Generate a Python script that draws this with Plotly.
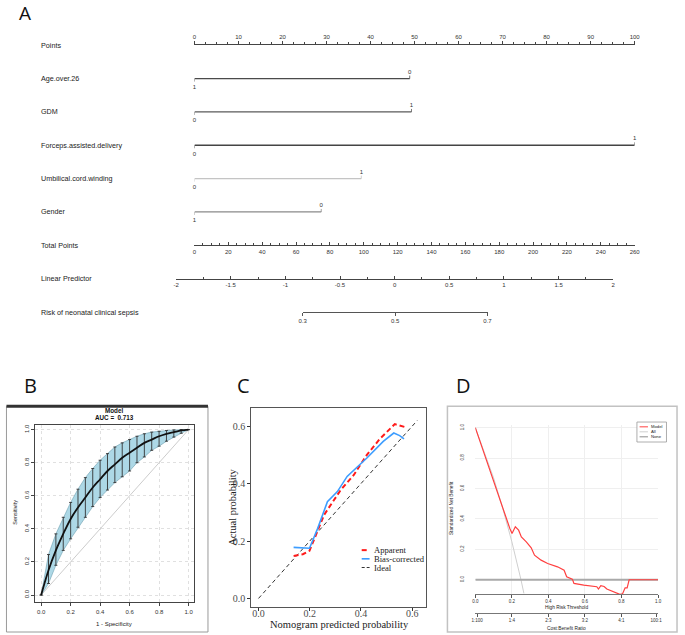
import plotly.graph_objects as go

W, H = 685, 635
def X(p): return p / W
def Y(p): return 1 - p / H

# ---------------- Panel A : nomogram data ----------------
row_labels = ["Points", "Age.over.26", "GDM", "Forceps.assisted.delivery",
              "Umbilical.cord.winding", "Gender", "Total Points",
              "Linear Predictor", "Risk of neonatal clinical sepsis"]
factor_level_text = [["1", "0"], ["0", "1"], ["0", "1"], ["0", "1"], ["1", "0"]]
factor_level_points = [[0, 48.9], [0, 49.3], [0, 100], [0, 37.9], [0, 28.8]]
factor_colors = ["#4a4a4a", "#5a5a5a", "#444444", "#c4c4c4", "#8a8a8a"]
points_ticks = [0, 10, 20, 30, 40, 50, 60, 70, 80, 90, 100]
total_points_ticks = [0, 20, 40, 60, 80, 100, 120, 140, 160, 180, 200, 220, 240, 260]
lp_ticks = [-2, -1.5, -1, -0.5, 0, 0.5, 1, 1.5, 2]
lp_tick_text = ["-2", "-1.5", "-1", "-0.5", "0", "0.5", "1", "1.5", "2"]
risk_ticks = [0.3, 0.5, 0.7]
risk_tick_text = ["0.3", "0.5", "0.7"]

# ---------------- Panel B : ROC ----------------
roc_fpr = [0.00, 0.05, 0.10, 0.15, 0.20, 0.25, 0.30, 0.35, 0.40, 0.45, 0.50,
           0.55, 0.60, 0.65, 0.70, 0.75, 0.80, 0.85, 0.90, 0.95, 1.00]
roc_sens = [0.00, 0.15, 0.27, 0.37, 0.46, 0.53, 0.59, 0.65, 0.70, 0.75, 0.79,
            0.83, 0.86, 0.89, 0.92, 0.94, 0.96, 0.975, 0.985, 0.995, 1.00]
roc_upper = [0.00, 0.245, 0.37, 0.47, 0.56, 0.64, 0.71, 0.765, 0.815, 0.855, 0.895,
             0.92, 0.94, 0.96, 0.975, 0.985, 0.99, 0.995, 0.998, 1.00, 1.00]
roc_lower = [0.00, 0.07, 0.18, 0.27, 0.34, 0.41, 0.47, 0.535, 0.59, 0.635, 0.68,
             0.715, 0.75, 0.80, 0.835, 0.875, 0.90, 0.93, 0.955, 0.978, 1.00]
auc_text = "AUC =  0.713"

# ---------------- Panel C : calibration ----------------
app_x = [0.137, 0.173, 0.199, 0.224, 0.256, 0.321, 0.372, 0.423, 0.474, 0.532, 0.571]
app_y = [0.148, 0.154, 0.166, 0.221, 0.291, 0.378, 0.430, 0.500, 0.556, 0.607, 0.597]
bc_x = [0.137, 0.199, 0.231, 0.269, 0.308, 0.346, 0.423, 0.487, 0.528, 0.551, 0.568]
bc_y = [0.178, 0.175, 0.244, 0.337, 0.372, 0.425, 0.489, 0.547, 0.576, 0.567, 0.556]
ideal_x = [0.0, 0.62]
ideal_y = [0.0, 0.62]
cal_ticks = [0.0, 0.2, 0.4, 0.6]
cal_tick_text = ["0.0", "0.2", "0.4", "0.6"]

# ---------------- Panel D : decision curve ----------------
model_t = [0.0, 0.144, 0.189, 0.201, 0.219, 0.237, 0.252, 0.279, 0.306, 0.324, 0.36,
           0.396, 0.45, 0.486, 0.5, 0.531, 0.54, 0.594, 0.665, 0.674, 0.687, 0.705,
           0.72, 0.791, 0.806, 0.82, 0.831, 0.842, 1.0]
model_nb = [1.0, 0.49, 0.337, 0.304, 0.348, 0.326, 0.282, 0.249, 0.21, 0.162, 0.129,
            0.107, 0.085, 0.063, 0.02, 0.004, -0.024, -0.035, -0.046, -0.061, -0.039, -0.044,
            -0.061, -0.096, -0.092, -0.053, -0.053, 0.0, 0.0]
all_t = [0.0, 0.05, 0.10, 0.15, 0.20, 0.25, 0.266]
all_nb = [1.0, 0.84, 0.67, 0.47, 0.25, 0.0, -0.09]
none_t = [0.0, 1.0]
none_nb = [0.0, 0.0]
dca_ticks = [0.0, 0.2, 0.4, 0.6, 0.8, 1.0]
dca_tick_text = ["0.0", "0.2", "0.4", "0.6", "0.8", "1.0"]
cb_ticks = [0.01, 0.2, 0.4, 0.6, 0.8, 0.99]
cb_tick_text = ["1:100", "1:4", "2:3", "3:2", "4:1", "100:1"]

SANS = "Liberation Sans, Arial, sans-serif"
SERIF = "Liberation Serif, Times New Roman, serif"

fig = go.Figure()

# ---- Nomogram factor rows (x / y) ----
ROW0, ROWSTEP = 44.3, 33.4
def rowpx(i): return ROW0 + ROWSTEP * i

for i, (txt, pts, col) in enumerate(zip(factor_level_text, factor_level_points, factor_colors)):
    r = i + 1
    fig.add_trace(go.Scatter(x=pts, y=[r, r], mode="lines", line=dict(color=col, width=1.3),
                             xaxis="x", yaxis="y", hoverinfo="skip", showlegend=False))
    fig.add_trace(go.Scatter(x=[pts[0], pts[0], None, pts[1], pts[1]],
                             y=[r, r + 0.09, None, r, r - 0.09], mode="lines",
                             line=dict(color=col, width=0.8), xaxis="x", yaxis="y",
                             hoverinfo="skip", showlegend=False))
    fig.add_trace(go.Scatter(x=[pts[0], pts[1]], y=[r + 0.27, r - 0.19], mode="text",
                             text=txt, textposition="middle center", cliponaxis=False,
                             textfont=dict(family=SANS, size=6, color="#333"),
                             xaxis="x", yaxis="y", hoverinfo="skip", showlegend=False))

# empty traces to create the scale subplots
for k in ["2", "3", "4", "5", "9"]:
    fig.add_trace(go.Scatter(x=[], y=[], xaxis="x" + k, yaxis="y" + k,
                             hoverinfo="skip", showlegend=False))

# ---- Panel B (x6/y6) ----
fig.add_trace(go.Scatter(x=[0, 1], y=[0, 1], mode="lines", line=dict(color="#cccccc", width=1),
                         xaxis="x6", yaxis="y6", hoverinfo="skip", showlegend=False))
fig.add_trace(go.Scatter(x=roc_fpr + roc_fpr[::-1], y=roc_upper + roc_lower[::-1],
                         mode="lines", fill="toself", fillcolor="#add8e6",
                         line=dict(color="#6f9fb0", width=0.6),
                         xaxis="x6", yaxis="y6", hoverinfo="skip", showlegend=False))
fig.add_trace(go.Scatter(x=roc_fpr, y=roc_sens, mode="lines",
                         line=dict(color="#111111", width=1.8, shape="spline"),
                         error_y=dict(type="data", symmetric=False,
                                      array=[u - m for u, m in zip(roc_upper, roc_sens)],
                                      arrayminus=[m - l for m, l in zip(roc_sens, roc_lower)],
                                      color="#333333", thickness=0.9, width=1.5),
                         xaxis="x6", yaxis="y6", hoverinfo="skip", showlegend=False))

# ---- Panel C (x7/y7) ----
fig.add_trace(go.Scatter(x=ideal_x, y=ideal_y, mode="lines",
                         line=dict(color="#333333", width=1, dash="4px,3px"),
                         xaxis="x7", yaxis="y7", hoverinfo="skip", showlegend=False))
fig.add_trace(go.Scatter(x=app_x, y=app_y, mode="lines",
                         line=dict(color="#ff1a1a", width=2, dash="5px,3px"),
                         xaxis="x7", yaxis="y7", hoverinfo="skip", showlegend=False))
fig.add_trace(go.Scatter(x=bc_x, y=bc_y, mode="lines",
                         line=dict(color="#3d9dff", width=1.6),
                         xaxis="x7", yaxis="y7", hoverinfo="skip", showlegend=False))

# ---- Panel D (x8/y8) ----
fig.add_trace(go.Scatter(x=all_t, y=all_nb, mode="lines", line=dict(color="#cfcfcf", width=1),
                         xaxis="x8", yaxis="y8", hoverinfo="skip", showlegend=False,
                         cliponaxis=False))
fig.add_trace(go.Scatter(x=none_t, y=none_nb, mode="lines", line=dict(color="#a9a9a9", width=2),
                         xaxis="x8", yaxis="y8", hoverinfo="skip", showlegend=False))
fig.add_trace(go.Scatter(x=model_t, y=model_nb, mode="lines", line=dict(color="#ff4040", width=1.2),
                         xaxis="x8", yaxis="y8", hoverinfo="skip", showlegend=False,
                         cliponaxis=False))

hidden = dict(visible=False, showgrid=False, zeroline=False)
nomo_dom = [X(193.3), X(640)]
tickfont_nomo = dict(family=SANS, size=6, color="#333")

layout = dict(
    width=W, height=H, margin=dict(l=0, r=0, t=0, b=0), hovermode=False,
    paper_bgcolor="white", plot_bgcolor="rgba(0,0,0,0)", showlegend=False,
    xaxis=dict(domain=nomo_dom, range=[0, 100], anchor="y", **hidden),
    yaxis=dict(domain=[Y(240), Y(55)],
               range=[(240 - ROW0) / ROWSTEP, (55 - ROW0) / ROWSTEP], anchor="x", **hidden),
    # Points
    xaxis2=dict(domain=nomo_dom, range=[0, 100], anchor="y2", side="top", showline=True,
                linecolor="#444", linewidth=1, ticks="outside", ticklen=3, tickcolor="#444",
                tickmode="array", tickvals=points_ticks, tickfont=tickfont_nomo,
                showgrid=False, zeroline=False,
                minor=dict(tickmode="array", tickvals=[i * 2.5 for i in range(41)],
                           ticks="outside", ticklen=2, tickcolor="#444", showgrid=False)),
    yaxis2=dict(domain=[Y(50), Y(ROW0)], range=[0, 1], anchor="x2", **hidden),
    # Total points
    xaxis3=dict(domain=nomo_dom, range=[0, 260], anchor="y3", side="bottom", showline=True,
                linecolor="#444", linewidth=1, ticks="inside", ticklen=3, tickcolor="#444",
                tickmode="array", tickvals=total_points_ticks, tickfont=tickfont_nomo,
                showgrid=False, zeroline=False,
                minor=dict(tickmode="array", tickvals=[i * 5 for i in range(53)],
                           ticks="inside", ticklen=2, tickcolor="#444", showgrid=False)),
    yaxis3=dict(domain=[Y(rowpx(6)), Y(rowpx(6) - 6)], range=[0, 1], anchor="x3", **hidden),
    # Linear predictor
    xaxis4=dict(domain=[X(174.7), X(618.2)], range=[-2, 2], anchor="y4", side="bottom",
                showline=True, linecolor="#444", linewidth=1, ticks="inside", ticklen=3,
                tickcolor="#444", tickmode="array", tickvals=lp_ticks, ticktext=lp_tick_text,
                tickfont=tickfont_nomo, showgrid=False, zeroline=False,
                minor=dict(tickmode="array", tickvals=[-2 + i * 0.25 for i in range(17)],
                           ticks="inside", ticklen=2, tickcolor="#444", showgrid=False)),
    yaxis4=dict(domain=[Y(rowpx(7)), Y(rowpx(7) - 6)], range=[0, 1], anchor="x4", **hidden),
    # Risk
    xaxis5=dict(domain=[X(303), X(490.7)], range=[0.3, 0.7], anchor="y5", side="bottom",
                showline=True, linecolor="#555", linewidth=1, ticks="outside", ticklen=3,
                tickcolor="#555", tickmode="array", tickvals=risk_ticks, ticktext=risk_tick_text,
                tickfont=tickfont_nomo, showgrid=False, zeroline=False),
    yaxis5=dict(domain=[Y(rowpx(8)), Y(rowpx(8) - 6)], range=[0, 1], anchor="x5", **hidden),
    # Panel B
    xaxis6=dict(domain=[X(31.7), X(192.7)], range=[-0.04, 1.036], anchor="y6",
                showline=True, mirror=True, linecolor="#444", linewidth=1,
                ticks="outside", ticklen=3, tickcolor="#444",
                tickmode="array", tickvals=dca_ticks, ticktext=dca_tick_text,
                tickfont=dict(family=SANS, size=6, color="#333"),
                showgrid=True, gridcolor="#d8d8d8", griddash="dot", gridwidth=0.8, zeroline=False),
    yaxis6=dict(domain=[Y(602.3), Y(425)], range=[-0.044, 1.026], anchor="x6",
                showline=True, mirror=True, linecolor="#444", linewidth=1,
                ticks="outside", ticklen=3, tickcolor="#444", tickangle=-90,
                tickmode="array", tickvals=dca_ticks, ticktext=dca_tick_text,
                tickfont=dict(family=SANS, size=6, color="#333"),
                showgrid=True, gridcolor="#d8d8d8", griddash="dot", gridwidth=0.8, zeroline=False),
    # Panel C
    xaxis7=dict(domain=[X(251), X(428.3)], range=[-0.028, 0.654], anchor="y7",
                showline=True, mirror=True, linecolor="#555", linewidth=1,
                ticks="outside", ticklen=3, tickcolor="#333", ticklabelstandoff=-6,
                tickmode="array", tickvals=cal_ticks, ticktext=cal_tick_text,
                tickfont=dict(family=SERIF, size=10, color="#4d4d4d"),
                showgrid=False, zeroline=False),
    yaxis7=dict(domain=[Y(607.3), Y(407.7)], range=[-0.031, 0.663], anchor="x7",
                showline=True, mirror=True, linecolor="#555", linewidth=1,
                ticks="outside", ticklen=3, tickcolor="#333",
                tickmode="array", tickvals=cal_ticks, ticktext=cal_tick_text,
                tickfont=dict(family=SERIF, size=10, color="#4d4d4d"),
                showgrid=False, zeroline=False),
    # Panel D
    xaxis8=dict(domain=[X(478.3), X(663.7)], range=[0, 1], anchor="y8",
                showline=True, linecolor="#555", linewidth=0.8,
                ticks="outside", ticklen=2.5, tickcolor="#555",
                tickmode="array", tickvals=dca_ticks, ticktext=dca_tick_text,
                tickfont=dict(family=SANS, size=4.5, color="#333"),
                showgrid=True, gridcolor="#efefef", gridwidth=1, zeroline=False),
    yaxis8=dict(domain=[Y(594.3), Y(424.3)], range=[-0.096, 1.02], anchor="x8",
                showline=False, ticks="", tickangle=-90, ticklabelstandoff=9,
                tickmode="array", tickvals=dca_ticks, ticktext=dca_tick_text,
                tickfont=dict(family=SANS, size=4.5, color="#333"),
                showgrid=True, gridcolor="#efefef", gridwidth=1, zeroline=False),
    xaxis9=dict(domain=[X(478.3), X(663.7)], range=[0, 1], anchor="y9",
                showline=True, linecolor="#555", linewidth=0.8,
                ticks="outside", ticklen=2.5, tickcolor="#555",
                tickmode="array", tickvals=cb_ticks, ticktext=cb_tick_text,
                tickfont=dict(family=SANS, size=4.5, color="#333"),
                showgrid=False, zeroline=False),
    yaxis9=dict(domain=[Y(613.3), Y(609)], range=[0, 1], anchor="x9", **hidden),
)
fig.update_layout(**layout)

ann = []
# Panel letters
for letter, px, py, sz in [("A", 21, 12, 19), ("B", 27, 385, 20), ("C", 243, 385, 20), ("D", 466, 385, 20)]:
    ann.append(dict(text=letter, x=X(px), y=Y(py), xref="paper", yref="paper",
                    xanchor="center", yanchor="middle", showarrow=False,
                    font=dict(family="Open Sans, Noto Sans, sans-serif", size=sz, color="#111")))
# Nomogram row labels
for i, lab in enumerate(row_labels):
    ann.append(dict(text=lab, x=X(36), y=Y(rowpx(i)), xref="paper", yref="paper",
                    xanchor="left", yanchor="middle", showarrow=False,
                    font=dict(family=SANS, size=7.2, color="#222")))
# Panel B texts
ann += [
    dict(text="<b>Model</b>", x=X(112), y=Y(410.5), xref="paper", yref="paper", showarrow=False,
         xanchor="center", yanchor="middle", font=dict(family=SANS, size=6.3, color="#111")),
    dict(text="<b>" + auc_text + "</b>", x=X(112), y=Y(417.5), xref="paper", yref="paper",
         showarrow=False, xanchor="center", yanchor="middle",
         font=dict(family=SANS, size=6.3, color="#111")),
    dict(text="Sensitivity", x=X(11.7), y=Y(512), xref="paper", yref="paper", showarrow=False,
         textangle=-90, xanchor="center", yanchor="middle",
         font=dict(family=SANS, size=5.5, color="#222")),
    dict(text="1 - Specificity", x=X(112), y=Y(623.5), xref="paper", yref="paper",
         showarrow=False, xanchor="center", yanchor="middle",
         font=dict(family=SANS, size=6, color="#222")),
]
# Panel C texts
ann += [
    dict(text="Actual probability", x=X(232), y=Y(507), xref="paper", yref="paper",
         showarrow=False, textangle=-90, xanchor="center", yanchor="middle",
         font=dict(family=SERIF, size=10.5, color="#222")),
    dict(text="Nomogram predicted probability", x=X(340), y=Y(624), xref="paper", yref="paper",
         showarrow=False, xanchor="center", yanchor="middle",
         font=dict(family=SERIF, size=10.5, color="#222")),
]
leg_c = [("Apparent", "#ff1a1a", "5px,3px", 2, 550), ("Bias-corrected", "#3d9dff", "solid", 1.6, 558.7),
         ("Ideal", "#333333", "3px,2px", 1, 567.4)]
shapes = []
for name, col, dash, wdt, py in leg_c:
    shapes.append(dict(type="line", xref="paper", yref="paper", x0=X(363), x1=X(371),
                       y0=Y(py), y1=Y(py), line=dict(color=col, width=wdt, dash=dash)))
    ann.append(dict(text=name, x=X(373), y=Y(py), xref="paper", yref="paper", showarrow=False,
                    xanchor="left", yanchor="middle", font=dict(family=SERIF, size=8.6, color="#222")))
# Panel D texts
ann += [
    dict(text="Standardized Net Benefit", x=X(453.5), y=Y(508), xref="paper", yref="paper",
         showarrow=False, textangle=-90, xanchor="center", yanchor="middle",
         font=dict(family=SANS, size=4.8, color="#222")),
    dict(text="High Risk Threshold", x=X(571), y=Y(607.8), xref="paper", yref="paper",
         showarrow=False, xanchor="center", yanchor="middle",
         font=dict(family=SANS, size=4.8, color="#222")),
    dict(text="Cost:Benefit Ratio", x=X(571), y=Y(628.5), xref="paper", yref="paper",
         showarrow=False, xanchor="center", yanchor="middle",
         font=dict(family=SANS, size=4.8, color="#222")),
]
shapes.append(dict(type="rect", xref="paper", yref="paper", x0=X(642.3), x1=X(672.3),
                   y0=Y(441.7), y1=Y(421.7), line=dict(color="#999", width=0.8),
                   fillcolor="white"))
leg_d = [("Model", "#ff4040", 426.5), ("All", "#cfcfcf", 431.5), ("None", "#8c8c8c", 436.5)]
for name, col, py in leg_d:
    shapes.append(dict(type="line", xref="paper", yref="paper", x0=X(645), x1=X(653.5),
                       y0=Y(py), y1=Y(py), line=dict(color=col, width=1)))
    ann.append(dict(text=name, x=X(655), y=Y(py), xref="paper", yref="paper", showarrow=False,
                    xanchor="left", yanchor="middle", font=dict(family=SANS, size=4.2, color="#222")))

# Panel frames
shapes += [
    dict(type="rect", xref="paper", yref="paper", x0=X(2.5), x1=X(207), y0=Y(632), y1=Y(406),
         line=dict(color="#9a9a9a", width=1)),
    dict(type="line", xref="paper", yref="paper", x0=X(2.5), x1=X(207), y0=Y(406), y1=Y(406),
         line=dict(color="#333", width=3)),
    dict(type="rect", xref="paper", yref="paper", x0=X(450), x1=X(683), y0=Y(632), y1=Y(406),
         line=dict(color="#c2c2c2", width=1.5)),
]
fig.update_layout(annotations=ann, shapes=shapes)
fig.write_html("out.html", config={"displayModeBar": False, "staticPlot": True},
               post_script="document.body.style.margin='0';document.body.style.overflow='hidden';")
